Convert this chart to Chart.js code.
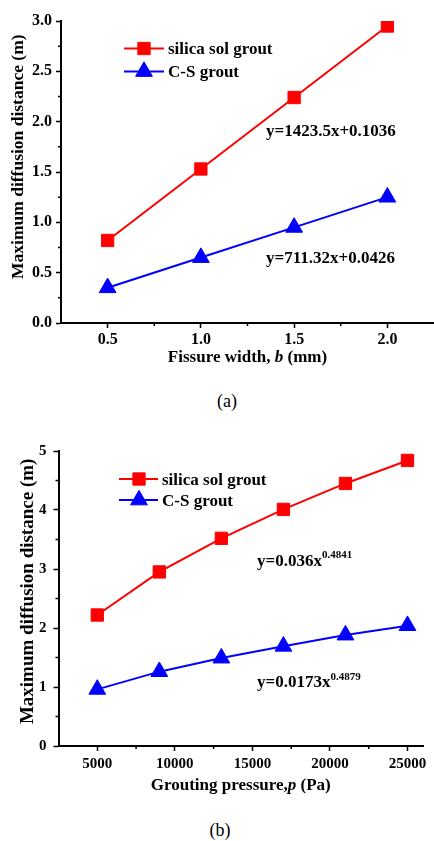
<!DOCTYPE html>
<html>
<head>
<meta charset="utf-8">
<script src="https://cdn.jsdelivr.net/npm/chart.js@4.4.1/dist/chart.umd.min.js"></script>
<style>
  html, body { margin: 0; padding: 0; background: #fff; }
  body { width: 434px; height: 841px; position: relative; overflow: hidden;
         font-family: "Liberation Serif", "Times New Roman", serif; color: #000; }
  .wrap { position: absolute; left: 0; width: 434px; height: 370px; }
  #wa { top: 0; }
  #wb { top: 430px; }
  .cap { position: absolute; font-size: 18px; line-height: 18px; text-align: center; }
</style>
</head>
<body>
<div class="wrap" id="wa"><canvas id="ca" width="434" height="370"></canvas></div>
<div class="wrap" id="wb"><canvas id="cb" width="434" height="370"></canvas></div>
<div class="cap" style="left:187px;width:80px;top:392px;">(a)</div>
<div class="cap" style="left:180px;width:80px;top:821px;">(b)</div>
<script>
// ---------- data ----------
const seriesLabels = ['silica sol grout', 'C-S grout'];

const fissureWidth = [0.5, 1.0, 1.5, 2.0];
const silicaByWidth = [0.82, 1.53, 2.24, 2.95];
const csByWidth = [0.35, 0.65, 0.95, 1.25];
const xTicksA = [0.5, 1.0, 1.5, 2.0];
const xMinorA = [0.75, 1.25, 1.75];
const yTicksA = [0, 0.5, 1.0, 1.5, 2.0, 2.5, 3.0];
const yMinorA = [0.25, 0.75, 1.25, 1.75, 2.25, 2.75];
const equationsA = ['y=1423.5x+0.1036', 'y=711.32x+0.0426'];

const groutingPressure = [5000, 9000, 13000, 17000, 21000, 25000];
const silicaByPressure = [2.22, 2.95, 3.52, 4.01, 4.45, 4.84];
const csByPressure = [0.96, 1.26, 1.49, 1.69, 1.88, 2.04];
const xTicksB = [5000, 10000, 15000, 20000, 25000];
const xMinorB = [7500, 12500, 17500, 22500];
const yTicksB = [0, 1, 2, 3, 4, 5];
const yMinorB = [0.5, 1.5, 2.5, 3.5, 4.5];
const equationsB = [['y=0.036x', '0.4841'], ['y=0.0173x', '0.4879']];

// ---------- helpers ----------
const FAM = '"Liberation Serif", "Times New Roman", serif';
const RED = '#ff0000', BLUE = '#0000ff';

function drawRich(ctx, segs, x, y, align) {
  let total = 0;
  segs.forEach(s => { ctx.font = s.font; s.w = ctx.measureText(s.text).width; total += s.w; });
  let cx = align === 'center' ? x - total / 2 : x;
  ctx.textAlign = 'left';
  ctx.textBaseline = 'alphabetic';
  segs.forEach(s => { ctx.font = s.font; ctx.fillText(s.text, cx, y + (s.dy || 0)); cx += s.w; });
}

function makeDecor(cfg) {
  return {
    id: 'decor' + cfg.key,
    afterDraw(chart) {
      const ctx = chart.ctx, ca = chart.chartArea;
      const xs = chart.scales.x, ys = chart.scales.y;
      ctx.save();
      // minor ticks
      ctx.strokeStyle = '#000'; ctx.lineWidth = 1.5;
      ctx.beginPath();
      cfg.xMinor.forEach(v => { const p = xs.getPixelForValue(v); ctx.moveTo(p, ca.bottom); ctx.lineTo(p, ca.bottom + 3); });
      cfg.yMinor.forEach(v => { const p = ys.getPixelForValue(v); ctx.moveTo(ca.left, p); ctx.lineTo(ca.left - 3, p); });
      ctx.stroke();
      // legend (line + marker + label)
      chart.data.datasets.forEach((ds, i) => {
        const y = cfg.legend.rows[i];
        ctx.strokeStyle = ds.borderColor; ctx.lineWidth = 2;
        ctx.beginPath(); ctx.moveTo(cfg.legend.x1, y); ctx.lineTo(cfg.legend.x2, y); ctx.stroke();
        ctx.fillStyle = ds.backgroundColor; ctx.strokeStyle = ds.borderColor; ctx.lineWidth = 1;
        Chart.helpers.drawPoint(ctx, { pointStyle: ds.pointStyle, radius: ds.pointRadius, rotation: 0, borderWidth: 1 }, cfg.legend.mx, y);
        ctx.fillStyle = '#000';
        ctx.font = 'bold 17px ' + FAM; ctx.textAlign = 'left'; ctx.textBaseline = 'alphabetic';
        ctx.fillText(ds.label, cfg.legend.tx, y + 5.5);
      });
      // equations
      ctx.fillStyle = '#000';
      cfg.equations.forEach(e => drawRich(ctx, e.segs, e.x, e.y, 'left'));
      // x-axis title
      drawRich(ctx, cfg.xTitle, (ca.left + ca.right) / 2, cfg.xTitleY, 'center');
      ctx.restore();
    }
  };
}

function makeChart(id, o) {
  const tickFont = { family: FAM, size: o.tickSize, weight: 'bold' };
  return new Chart(document.getElementById(id), {
    type: 'line',
    data: {
      datasets: [
        { label: seriesLabels[0], data: o.xs.map((x, i) => ({ x, y: o.s1[i] })),
          borderColor: RED, backgroundColor: RED, pointStyle: 'rect',
          pointRadius: 8.7, pointHoverRadius: 8.7, pointBorderWidth: 1, borderWidth: 2, tension: 0 },
        { label: seriesLabels[1], data: o.xs.map((x, i) => ({ x, y: o.s2[i] })),
          borderColor: BLUE, backgroundColor: BLUE, pointStyle: 'triangle',
          pointRadius: 9.7, pointHoverRadius: 9.7, pointBorderWidth: 1, borderWidth: 2, tension: 0 }
      ]
    },
    options: {
      responsive: false, animation: false, devicePixelRatio: 1,
      layout: { autoPadding: false, padding: { top: o.padTop, right: o.padRight, left: 0, bottom: 0 } },
      plugins: { legend: { display: false }, tooltip: { enabled: false } },
      scales: {
        x: {
          type: 'linear', min: o.xMin, max: o.xMax,
          afterBuildTicks: s => { s.ticks = o.xTicks.map(v => ({ value: v })); },
          afterFit: s => { s.height = o.xH; },
          ticks: { font: tickFont, color: '#000', padding: o.xPad, autoSkip: false, maxRotation: 0,
                   callback: v => o.xFmt(v) },
          grid: { display: true, drawOnChartArea: false, drawTicks: true, tickLength: 5, tickWidth: 1.5, tickColor: '#000' },
          border: { display: true, color: '#000', width: 2 },
          title: { display: false }
        },
        y: {
          type: 'linear', min: o.yMin, max: o.yMax,
          afterBuildTicks: s => { s.ticks = o.yTicks.map(v => ({ value: v })); },
          afterFit: s => { s.width = o.yW; },
          ticks: { font: tickFont, color: '#000', padding: o.yPad, autoSkip: false,
                   callback: v => o.yFmt(v) },
          grid: { display: true, drawOnChartArea: false, drawTicks: true, tickLength: 5, tickWidth: 1.5, tickColor: '#000' },
          border: { display: true, color: '#000', width: 2 },
          title: { display: true, text: o.yTitle, color: '#000',
                   font: { family: FAM, size: o.yTitleSize, weight: 'bold' },
                   padding: { top: o.yTitlePad, bottom: 0 } }
        }
      }
    },
    plugins: [makeDecor(o.decor)]
  });
}

const B17 = 'bold 17px ' + FAM, BI17 = 'italic bold 17px ' + FAM, B11 = 'bold 11px ' + FAM;

makeChart('ca', {
  xs: fissureWidth, s1: silicaByWidth, s2: csByWidth,
  xMin: 0.25, xMax: 2.25, yMin: 0, yMax: 3,
  xTicks: xTicksA, yTicks: yTicksA,
  xFmt: v => v.toFixed(1), yFmt: v => v.toFixed(1),
  tickSize: 16, xPad: 2, yPad: 4,
  padTop: 21, padRight: 0, xH: 47, yW: 61,
  yTitle: '       Maximum diffusion distance (m)', yTitleSize: 17.5, yTitlePad: 8,
  decor: {
    key: 'A', xMinor: xMinorA, yMinor: yMinorA,
    legend: { rows: [48.5, 71.5], x1: 124, x2: 164, mx: 144, tx: 168 },
    equations: [
      { x: 266, y: 136, segs: [{ text: equationsA[0], font: B17 }] },
      { x: 266, y: 262.5, segs: [{ text: equationsA[1], font: B17 }] }
    ],
    xTitle: [{ text: 'Fissure width, ', font: B17 }, { text: 'b', font: BI17 }, { text: ' (mm)', font: B17 }],
    xTitleY: 362
  }
});

makeChart('cb', {
  xs: groutingPressure, s1: silicaByPressure, s2: csByPressure,
  xMin: 2500, xMax: 26000, yMin: 0, yMax: 5,
  xTicks: xTicksB, yTicks: yTicksB,
  xFmt: v => String(v), yFmt: v => String(v),
  tickSize: 15, xPad: 4, yPad: 7,
  padTop: 21, padRight: 11, xH: 54, yW: 58.5,
  yTitle: '   Maximum diffusion distance (m)', yTitleSize: 19, yTitlePad: 17,
  decor: {
    key: 'B', xMinor: xMinorB, yMinor: yMinorB,
    legend: { rows: [49, 70], x1: 119, x2: 158, mx: 139, tx: 162 },
    equations: [
      { x: 257, y: 136, segs: [{ text: equationsB[0][0], font: B17 }, { text: equationsB[0][1], font: B11, dy: -8.5 }] },
      { x: 257, y: 257, segs: [{ text: equationsB[1][0], font: B17 }, { text: equationsB[1][1], font: B11, dy: -7.5 }] }
    ],
    xTitle: [{ text: 'Grouting pressure,', font: B17 }, { text: 'p', font: BI17 }, { text: ' (Pa)', font: B17 }],
    xTitleY: 359.5
  }
});
</script>
</body>
</html>
